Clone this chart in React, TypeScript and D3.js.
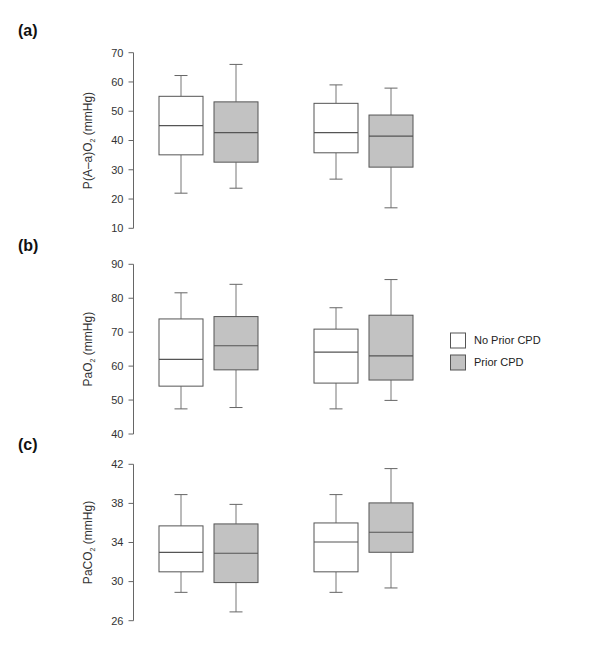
import * as d3 from 'd3';

// two time points (x labels are cut off in the source), two cohorts
const GROUPS = ['G1', 'G2'];
const SERIES = ['No Prior CPD', 'Prior CPD'];

// [whisker low, Q1, median, Q3, whisker high] per box, order: G1 noCPD, G1 CPD, G2 noCPD, G2 CPD
const AA_GRADIENT = [
  [22, 35.1, 45.1, 55.1, 62.2],
  [23.7, 32.6, 42.7, 53.2, 66],
  [26.8, 35.8, 42.7, 52.7, 59],
  [17, 30.9, 41.5, 48.7, 57.9],
];
const PAO2 = [
  [47.4, 54.1, 62, 73.9, 81.6],
  [47.8, 58.9, 66, 74.6, 84.1],
  [47.4, 55, 64.1, 70.9, 77.2],
  [49.9, 55.9, 63, 75, 85.5],
];
const PACO2 = [
  [28.9, 31, 33, 35.7, 38.9],
  [26.9, 29.9, 32.9, 35.9, 37.9],
  [28.9, 31, 34.05, 36, 38.9],
  [29.35, 33, 35.05, 38.05, 41.56],
];

const TICKS_A = [10, 20, 30, 40, 50, 60, 70];
const TICKS_B = [40, 50, 60, 70, 80, 90];
const TICKS_C = [26, 30, 34, 38, 42];

const FILLS = ['#ffffff', '#c2c2c2'];
const FONT = '"Liberation Sans", Arial, Helvetica, sans-serif';
const AXIS_X = 133.5;

const groupX = d3.scalePoint<string>().domain(GROUPS).range([208.5, 363.5]);
const seriesX = d3.scaleBand<string>().domain(SERIES).range([-49.5, 49.5]).paddingInner(0.2).paddingOuter(0);

interface PanelProps {
  tag: string;
  tagY: number;
  label: [string, string, string];
  data: number[][];
  ticks: number[];
  range: [number, number];
}

function Panel({ tag, tagY, label, data, ticks, range }: PanelProps) {
  const y = d3.scaleLinear().domain([ticks[0], ticks[ticks.length - 1]]).range(range);
  const mid = (range[0] + range[1]) / 2;
  const bw = seriesX.bandwidth();
  return (
    <g>
      <text x={18} y={tagY} fontSize={16} fontWeight="bold" fill="#111" fontFamily={FONT}>{tag}</text>
      <line x1={AXIS_X} x2={AXIS_X} y1={y(ticks[0])} y2={y(ticks[ticks.length - 1])} stroke="#666" />
      {ticks.map(t => (
        <g key={t}>
          <line x1={AXIS_X - 5} x2={AXIS_X} y1={y(t)} y2={y(t)} stroke="#666" />
          <text x={AXIS_X - 10} y={y(t)} dy="0.35em" textAnchor="end" fontSize={11} fill="#333" fontFamily={FONT}>{t}</text>
        </g>
      ))}
      <text transform={`translate(92,${mid}) rotate(-90)`} textAnchor="middle" fontSize={12} fill="#333" fontFamily={FONT}>
        {label[0]}
        <tspan fontSize={7} dy={3}>{label[1]}</tspan>
        <tspan dy={-3}>{label[2]}</tspan>
      </text>
      {data.map((d, i) => {
        const g = GROUPS[Math.floor(i / 2)];
        const s = SERIES[i % 2];
        const x0 = groupX(g)! + seriesX(s)!;
        const cx = x0 + bw / 2;
        const [lo, q1, med, q3, hi] = d;
        return (
          <g key={i}>
            <line x1={cx} x2={cx} y1={y(q3)} y2={y(hi)} stroke="#777" />
            <line x1={cx} x2={cx} y1={y(q1)} y2={y(lo)} stroke="#777" />
            <line x1={cx - 6.5} x2={cx + 6.5} y1={y(hi)} y2={y(hi)} stroke="#666" />
            <line x1={cx - 6.5} x2={cx + 6.5} y1={y(lo)} y2={y(lo)} stroke="#666" />
            <rect x={x0} y={y(q3)} width={bw} height={y(q1) - y(q3)} fill={FILLS[i % 2]} stroke="#555" />
            <line x1={x0} x2={x0 + bw} y1={y(med)} y2={y(med)} stroke="#555" strokeWidth={1.2} />
          </g>
        );
      })}
    </g>
  );
}

export default function App() {
  return (
    <div style={{ position: 'absolute', left: 0, top: 0 }}>
      <svg width={600} height={646} style={{ display: 'block', background: '#fff' }}>
        <Panel tag="(a)" tagY={36} label={['P(A–a)O', '2', ' (mmHg)']} data={AA_GRADIENT} ticks={TICKS_A} range={[228.3, 52.7]} />
        <Panel tag="(b)" tagY={251} label={['PaO', '2', ' (mmHg)']} data={PAO2} ticks={TICKS_B} range={[434, 264.3]} />
        <Panel tag="(c)" tagY={450} label={['PaCO', '2', ' (mmHg)']} data={PACO2} ticks={TICKS_C} range={[620.7, 464.3]} />
        {SERIES.map((s, i) => (
          <g key={s}>
            <rect x={450.5} y={333 + i * 22} width={15} height={15} fill={FILLS[i]} stroke="#555" />
            <text x={474} y={340.5 + i * 22} dy="0.35em" fontSize={11} fill="#222" fontFamily={FONT}>{s}</text>
          </g>
        ))}
      </svg>
    </div>
  );
}
